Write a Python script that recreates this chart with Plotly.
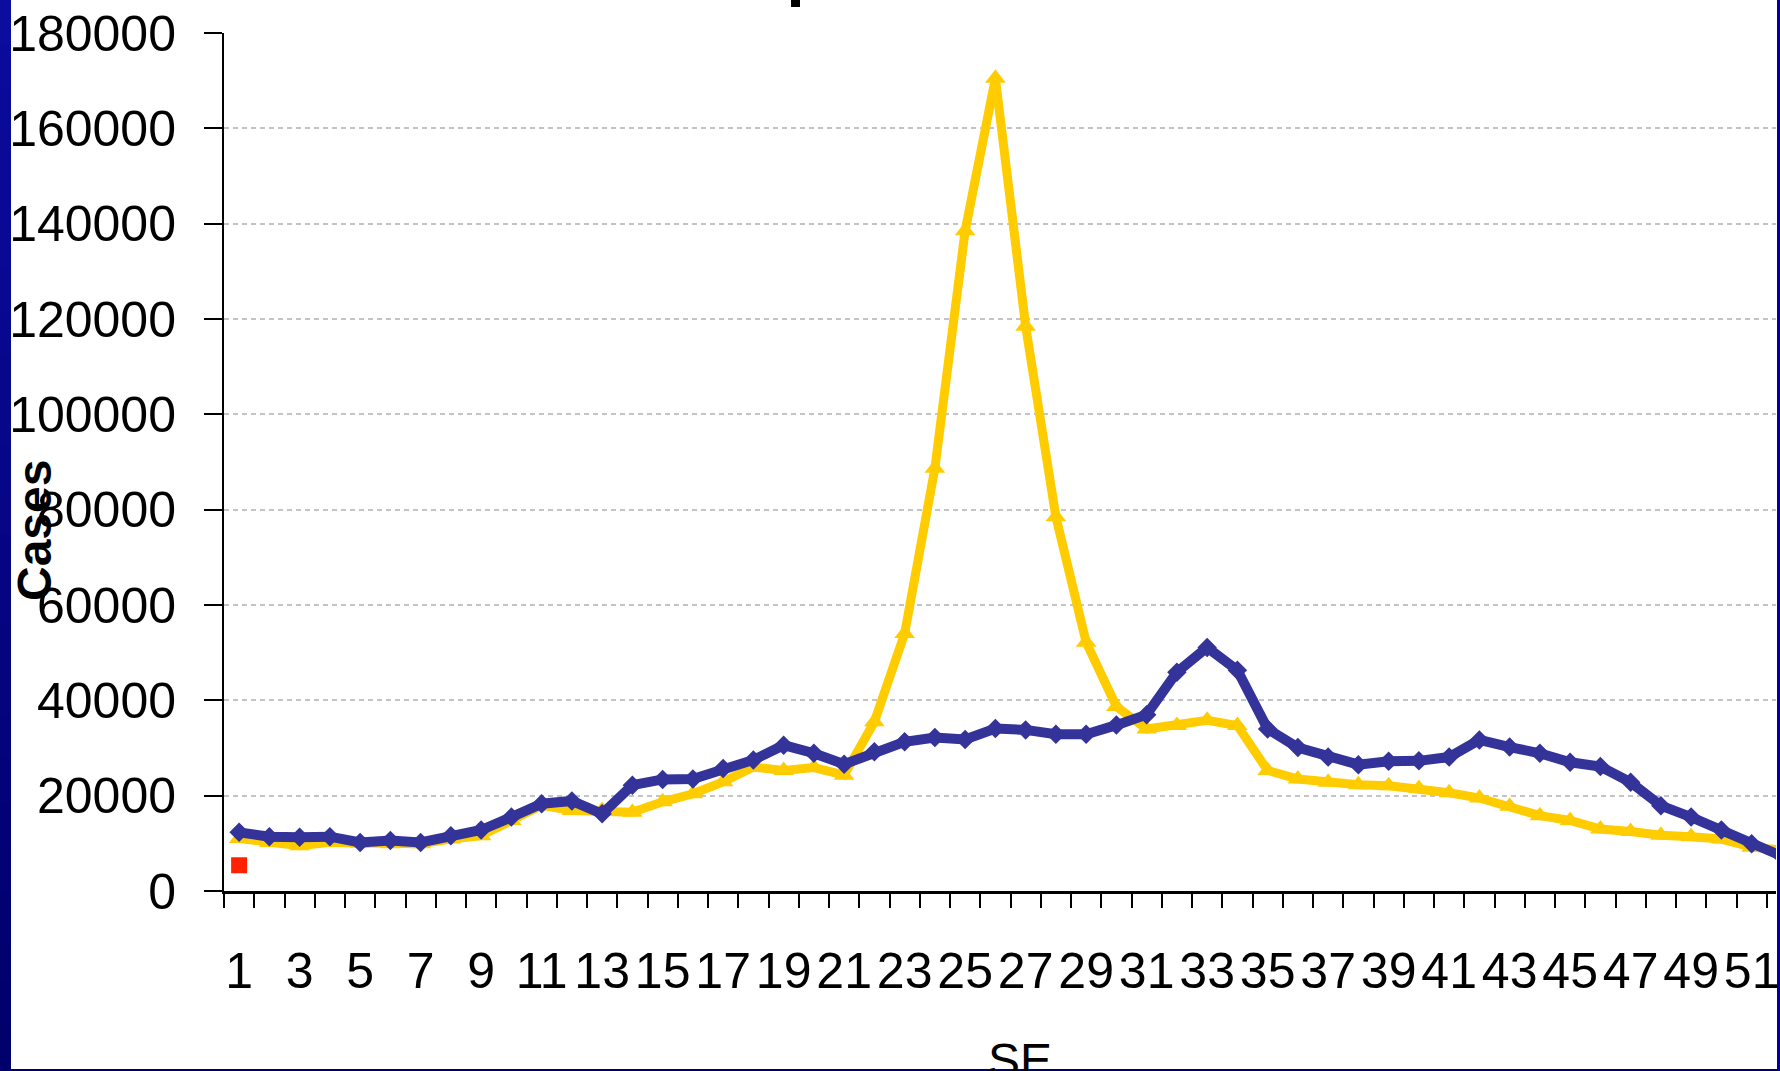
import plotly.graph_objects as go

# Weekly case counts (SE = epidemiological week)
weeks = list(range(1, 53))

cases_yellow = [11000, 10200, 9500, 10200, 10000, 9900, 9900, 10900, 11600, 14800,
                18000, 16900, 16900, 16500, 18700, 20400, 22900, 26000, 25300, 25900,
                24300, 35500, 54000, 88700, 138500, 170500, 118500, 78500, 52200, 38700,
                34000, 34700, 35800, 34700, 25300, 23500, 22800, 22300, 22100, 21500,
                20600, 19500, 17800, 15800, 14800, 13000, 12500, 11700, 11400, 10900,
                9200, 8600]

cases_blue = [12300, 11400, 11300, 11400, 10200, 10600, 10200, 11600, 12800, 15500,
              18300, 18900, 16200, 22200, 23400, 23500, 25700, 27500, 30600, 28900,
              26600, 29200, 31300, 32200, 31800, 34100, 33800, 32900, 32900, 34800,
              37000, 45900, 51100, 46300, 34000, 30100, 28100, 26500, 27200, 27300,
              28100, 31700, 30200, 28900, 27000, 26100, 22800, 17900, 15500, 12800,
              9900, 7300]

current_weeks = [1]
cases_current = [5400]

x_labels = [str(w) for w in weeks if w % 2 == 1]
x_label_vals = [w for w in weeks if w % 2 == 1]
y_ticks = list(range(0, 180001, 20000))

W, H = 1780, 1071
L, R, T, B = 224, 4, 33, 180
PW, PH = W - L - R, H - T - B

FONT = "Liberation Sans, Arial, sans-serif"


def px_x(X):
    return (X - L) / PW


def px_y(Y):
    return (H - B - Y) / PH


fig = go.Figure()

fig.add_trace(go.Scatter(
    x=weeks, y=cases_yellow, mode="lines+markers",
    line=dict(color="#FFCC00", width=9),
    marker=dict(symbol="triangle-up", size=18, color="#FFCC00"),
    showlegend=False,
))
fig.add_trace(go.Scatter(
    x=weeks, y=cases_blue, mode="lines+markers",
    line=dict(color="#333399", width=10),
    marker=dict(symbol="diamond", size=15, color="#333399"),
    showlegend=False,
))
fig.add_trace(go.Scatter(
    x=current_weeks, y=cases_current, mode="markers",
    marker=dict(symbol="square", size=16, color="#FF2200"),
    showlegend=False,
))

xmax = 0.5 + PW / 30.25

fig.update_xaxes(
    range=[0.5, xmax], automargin=False,
    tickmode="array", tickvals=x_label_vals, ticktext=x_labels,
    ticks="", showgrid=False, zeroline=False,
    showline=True, linecolor="black", linewidth=3,
    tickfont=dict(family=FONT, size=50, color="black"),
    ticklabelstandoff=34, ticklabeloverflow="allow",
    minor=dict(tickmode="array", tickvals=[w + 0.5 for w in range(0, 53)],
               ticks="outside", ticklen=14, tickwidth=2, tickcolor="black",
               showgrid=False),
)
fig.update_yaxes(
    range=[0, 180000], automargin=False,
    tickmode="array", tickvals=y_ticks, ticktext=[str(v) for v in y_ticks],
    ticks="outside", ticklen=18, tickwidth=2, tickcolor="black",
    showline=True, linecolor="black", linewidth=2,
    showgrid=True, gridcolor="#C4C4C4", gridwidth=2, griddash="5px,4px",
    zeroline=False,
    tickfont=dict(family=FONT, size=50, color="black"),
    ticklabelstandoff=18, ticklabeloverflow="allow",
)

annotations = [
    dict(text="<b>Cases</b>", textangle=-90, xref="paper", yref="paper",
         x=px_x(34), y=px_y(531), xanchor="center", yanchor="middle",
         showarrow=False, font=dict(family=FONT, size=48, color="black")),
    dict(text="SE", xref="paper", yref="paper",
         x=px_x(1020), y=px_y(1060), xanchor="center", yanchor="middle",
         showarrow=False, font=dict(family=FONT, size=48, color="black")),
]

shapes = []
# slide frame: gradient band on the left, thin bands right and bottom
n = 24
for i in range(n):
    t = i / (n - 1)
    r = int(12 * (1 - t))
    g = int(12 * (1 - t))
    b = int(158 - 50 * t)
    y0 = i * H / n
    y1 = (i + 1) * H / n
    shapes.append(dict(type="rect", xref="paper", yref="paper",
                       x0=px_x(-2), x1=px_x(11), y0=px_y(y1 + 1), y1=px_y(y0),
                       fillcolor=f"rgb({r},{g},{b})", line=dict(width=0),
                       layer="above"))
shapes.append(dict(type="rect", xref="paper", yref="paper",
                   x0=px_x(1777), x1=px_x(1782), y0=px_y(H + 2), y1=px_y(-2),
                   fillcolor="#000099", line=dict(width=0), layer="above"))
shapes.append(dict(type="rect", xref="paper", yref="paper",
                   x0=px_x(-2), x1=px_x(W + 2), y0=px_y(H + 2), y1=px_y(1069),
                   fillcolor="#000066", line=dict(width=0), layer="above"))
# fragment of the slide heading above the plot
shapes.append(dict(type="rect", xref="paper", yref="paper",
                   x0=px_x(791), x1=px_x(800), y0=px_y(7), y1=px_y(-2),
                   fillcolor="black", line=dict(width=0), layer="above"))

fig.update_layout(
    width=W, height=H,
    margin=dict(l=L, r=R, t=T, b=B, autoexpand=False),
    paper_bgcolor="white", plot_bgcolor="white",
    annotations=annotations, shapes=shapes,
    showlegend=False,
)

fig.write_html("out.html")
